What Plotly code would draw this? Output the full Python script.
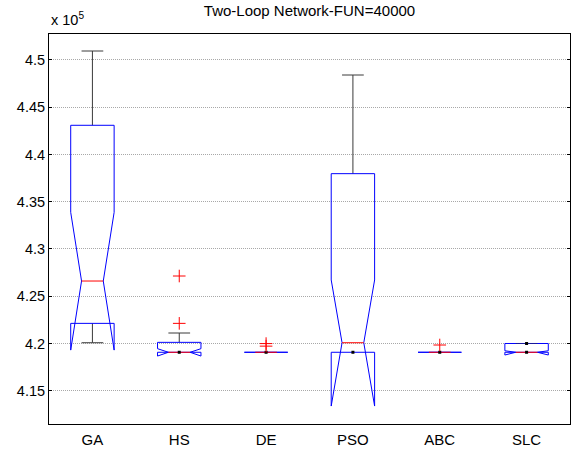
import plotly.graph_objects as go

# Best network cost per algorithm (units of 10^5)
categories = ["GA", "HS", "DE", "PSO", "ABC", "SLC"]
lower_whisker = [4.2008, 4.1907, 4.1907, 4.1907, 4.1907, 4.1907]
q1 = [4.2213, 4.1907, 4.1907, 4.1907, 4.1907, 4.1907]
median = [4.2661, 4.1907, 4.1907, 4.2008, 4.1907, 4.1907]
q3 = [4.4309, 4.2012, 4.1907, 4.3797, 4.1907, 4.2000]
upper_whisker = [4.5095, 4.2111, 4.1907, 4.4841, 4.1907, 4.2000]
notch_low = [4.1930, 4.1867, 4.1907, 4.1338, 4.1907, 4.1878]
notch_high = [4.3388, 4.1945, 4.1907, 4.2672, 4.1907, 4.1923]
outliers = {
    "HS": [4.2213, 4.2714],
    "DE": [4.1999, 4.1972],
    "ABC": [4.1984],
}
y_ticks = [4.15, 4.2, 4.25, 4.3, 4.35, 4.4, 4.45, 4.5]

HALF = 0.25      # half box width
INNER = 0.125    # half width at notch / whisker cap
BLUE = "#0000ff"
RED = "#ff0000"
WHISK = "#3a3a3a"

fig = go.Figure()

def line(xs, ys, color, width=1):
    fig.add_trace(go.Scatter(x=xs, y=ys, mode="lines",
                             line=dict(color=color, width=width),
                             hoverinfo="skip", showlegend=False))

for i, name in enumerate(categories):
    c = i + 1
    # whiskers and caps
    if upper_whisker[i] > q3[i]:
        line([c, c], [q3[i], upper_whisker[i]], WHISK)
        line([c - INNER, c + INNER], [upper_whisker[i], upper_whisker[i]], WHISK)
    if lower_whisker[i] < q1[i]:
        line([c, c], [q1[i], lower_whisker[i]], WHISK)
        line([c - INNER, c + INNER], [lower_whisker[i], lower_whisker[i]], WHISK)

    # notched box outline
    xs = [c - HALF, c - HALF, c - HALF / 2, c - HALF, c - HALF,
          c + HALF, c + HALF, c + HALF / 2, c + HALF, c + HALF, c - HALF]
    ys = [q1[i], notch_low[i], median[i], notch_high[i], q3[i],
          q3[i], notch_high[i], median[i], notch_low[i], q1[i], q1[i]]
    line(xs, ys, BLUE)

    if upper_whisker[i] == q3[i] and q3[i] != q1[i]:
        line([c - INNER, c + INNER], [q3[i], q3[i]], "#1a1a99")

    # median
    line([c - HALF / 2, c + HALF / 2], [median[i], median[i]], RED)

    # collapsed whisker ends
    dots = []
    if lower_whisker[i] == q1[i]:
        dots.append(q1[i])
    if upper_whisker[i] == q3[i] and q3[i] != q1[i]:
        dots.append(q3[i])
    if dots:
        fig.add_trace(go.Scatter(x=[c] * len(dots), y=dots, mode="markers",
                                 marker=dict(symbol="square", size=3, color="black"),
                                 hoverinfo="skip", showlegend=False))

    # outliers
    if name in outliers:
        vals = outliers[name]
        fig.add_trace(go.Scatter(x=[c] * len(vals), y=vals, mode="markers",
                                 marker=dict(symbol="cross-thin", size=9,
                                             line=dict(color=RED, width=1)),
                                 hoverinfo="skip", showlegend=False))

FONT = "Arial, Liberation Sans, sans-serif"

fig.update_layout(
    width=582, height=450,
    margin=dict(l=49, r=12, t=34, b=26),
    paper_bgcolor="white", plot_bgcolor="white",
    font=dict(family=FONT, size=14.5, color="black"),
    title=dict(text="Two-Loop Network-FUN=40000", x=0.5,
               xref="paper", xanchor="center", y=1, yref="container",
               yanchor="top", pad=dict(t=5),
               font=dict(family=FONT, size=15, color="black")),
    xaxis=dict(range=[0.5, 6.5], tickmode="array",
               tickvals=list(range(1, len(categories) + 1)),
               ticktext=categories, ticks="", showgrid=False,
               tickfont=dict(size=15), ticklabelstandoff=2, automargin=False,
               showline=True, linecolor="black", linewidth=1, mirror=True,
               zeroline=False, fixedrange=True),
    yaxis=dict(range=[4.1148, 4.5275], tickmode="array", tickvals=y_ticks,
               ticktext=[f"{v:g}" for v in y_ticks],
               ticks="inside", ticklen=3, tickcolor="black",
               tickfont=dict(size=14.5), automargin=False,
               showgrid=True, gridcolor="#a8a8a8", griddash="1px,1px", gridwidth=1,
               showline=True, linecolor="black", linewidth=1, mirror="ticks",
               zeroline=False, fixedrange=True),
    annotations=[dict(text="x 10<sup>5</sup>", xref="paper", yref="paper",
                      x=0, y=1, xanchor="left", yanchor="bottom", yshift=4,
                      showarrow=False, font=dict(family=FONT, size=14.5))],
)

fig.write_html("out.html")
